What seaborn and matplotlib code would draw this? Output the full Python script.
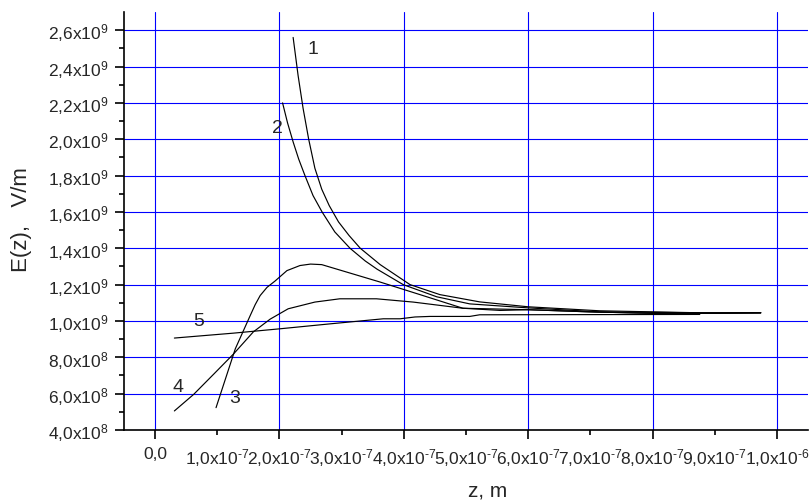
import numpy as np
import pandas as pd
import matplotlib
matplotlib.use("Agg")
import matplotlib.pyplot as plt
import seaborn as sns

# curves E(z)
z1 = [2.22e-7, 2.30e-7, 2.38e-7, 2.47e-7, 2.57e-7, 2.68e-7, 2.80e-7, 2.95e-7, 3.12e-7, 3.30e-7,
      3.62e-7, 4.10e-7, 4.58e-7, 5.22e-7, 6.00e-7, 7.15e-7, 8.76e-7, 9.74e-7]
E1 = [2.56e9, 2.35e9, 2.17e9, 2.00e9, 1.84e9, 1.725e9, 1.635e9, 1.545e9, 1.47e9, 1.40e9,
      1.31e9, 1.20e9, 1.145e9, 1.105e9, 1.078e9, 1.056e9, 1.045e9, 1.045e9]

z2 = [2.05e-7, 2.13e-7, 2.22e-7, 2.31e-7, 2.41e-7, 2.54e-7, 2.685e-7, 2.89e-7, 3.135e-7, 3.38e-7,
      3.57e-7, 3.99e-7, 4.53e-7, 5.06e-7, 6.00e-7, 7.15e-7, 8.76e-7, 9.74e-7]
E2 = [2.20e9, 2.09e9, 1.985e9, 1.89e9, 1.80e9, 1.69e9, 1.60e9, 1.49e9, 1.40e9, 1.33e9,
      1.285e9, 1.20e9, 1.133e9, 1.094e9, 1.072e9, 1.05e9, 1.045e9, 1.045e9]

z3 = [0.98e-7, 1.29e-7, 1.53e-7, 1.61e-7, 1.69e-7, 1.80e-7, 1.93e-7, 2.12e-7, 2.33e-7, 2.50e-7,
      2.68e-7, 3.62e-7, 4.26e-7, 4.95e-7, 6.00e-7, 7.00e-7, 8.00e-7, 9.00e-7, 9.74e-7]
E3 = [5.23e8, 8.47e8, 1.03e9, 1.09e9, 1.14e9, 1.185e9, 1.22e9, 1.277e9, 1.305e9, 1.313e9,
      1.31e9, 1.214e9, 1.145e9, 1.07e9, 1.062e9, 1.05e9, 1.042e9, 1.042e9, 1.045e9]

z4 = [0.31e-7, 0.62e-7, 0.95e-7, 1.26e-7, 1.58e-7, 1.85e-7, 2.14e-7, 2.57e-7, 2.97e-7, 3.56e-7,
      4.15e-7, 4.95e-7, 5.55e-7, 6.00e-7, 7.00e-7, 8.00e-7, 9.00e-7, 9.74e-7]
E4 = [5.05e8, 5.96e8, 7.10e8, 8.18e8, 9.40e8, 1.01e9, 1.067e9, 1.104e9, 1.122e9, 1.122e9,
      1.104e9, 1.07e9, 1.058e9, 1.062e9, 1.05e9, 1.042e9, 1.042e9, 1.045e9]

z5 = [0.31e-7, 1.26e-7, 2.01e-7, 2.81e-7, 3.67e-7, 3.94e-7, 4.18e-7, 4.42e-7, 5.06e-7, 5.22e-7,
      7.00e-7, 8.76e-7]
E5 = [9.06e8, 9.33e8, 9.57e8, 9.84e8, 1.012e9, 1.012e9, 1.022e9, 1.025e9, 1.025e9, 1.034e9,
      1.035e9, 1.036e9]

x_major = [0.0, 2e-7, 4e-7, 6e-7, 8e-7, 1e-6]
x_major_labels = ["0,0", r"2,0x10$^{\text{-7}}$", r"4,0x10$^{\text{-7}}$", r"6,0x10$^{\text{-7}}$",
                  r"8,0x10$^{\text{-7}}$", r"1,0x10$^{\text{-6}}$"]
x_minor = [1e-7, 3e-7, 5e-7, 7e-7, 9e-7]
x_minor_labels = [r"1,0x10$^{\text{-7}}$", r"3,0x10$^{\text{-7}}$", r"5,0x10$^{\text{-7}}$",
                  r"7,0x10$^{\text{-7}}$", r"9,0x10$^{\text{-7}}$"]
y_major = [4e8, 6e8, 8e8, 1.0e9, 1.2e9, 1.4e9, 1.6e9, 1.8e9, 2.0e9, 2.2e9, 2.4e9, 2.6e9]
y_major_labels = [r"4,0x10$^{8}$", r"6,0x10$^{8}$", r"8,0x10$^{8}$", r"1,0x10$^{9}$",
                  r"1,2x10$^{9}$", r"1,4x10$^{9}$", r"1,6x10$^{9}$", r"1,8x10$^{9}$",
                  r"2,0x10$^{9}$", r"2,2x10$^{9}$", r"2,4x10$^{9}$", r"2,6x10$^{9}$"]
y_minor = [5e8, 7e8, 9e8, 1.1e9, 1.3e9, 1.5e9, 1.7e9, 1.9e9, 2.1e9, 2.3e9, 2.5e9]

sns.set_style("white")
plt.rcParams["font.family"] = ["Liberation Sans", "DejaVu Sans"]
plt.rcParams["mathtext.fontset"] = "custom"
plt.rcParams["mathtext.rm"] = "Liberation Sans"
plt.rcParams["mathtext.it"] = "Liberation Sans:italic"
plt.rcParams["mathtext.bf"] = "Liberation Sans:bold"

fig = plt.figure(figsize=(8.1, 5.02), dpi=100)
ax = fig.add_axes([0.1531, 0.1414, 0.8444, 0.8327])

curves = [(z1, E1), (z2, E2), (z3, E3), (z4, E4), (z5, E5)]
for z, E in curves:
    df = pd.DataFrame({"z": z, "E": E})
    sns.lineplot(data=df, x="z", y="E", ax=ax, color="black", lw=0.85,
                 sort=False, estimator=None)

ax.set_xlim(-0.5e-7, 1.05e-6)
ax.set_ylim(4e8, 2.7e9)

ax.set_xticks(x_major)
ax.set_xticklabels(x_major_labels)
ax.set_xticks(x_minor, minor=True)
ax.set_xticklabels(x_minor_labels, minor=True)
ax.set_yticks(y_major)
ax.set_yticklabels(y_major_labels)
ax.set_yticks(y_minor, minor=True)

ax.tick_params(which="major", length=6.3, width=1.2, color="black", labelsize=12.5, pad=5)
ax.tick_params(axis="x", which="minor", length=3.6, width=1.2, color="black", labelsize=12.5, pad=7.7)
ax.tick_params(axis="y", which="minor", length=3.6, width=1.2, color="black")
ax.tick_params(axis="both", direction="out", bottom=True, left=True)
ax.tick_params(axis="x", which="minor", bottom=True)
ax.tick_params(axis="y", which="minor", left=True)

ax.grid(True, which="major", color="#0000ff", lw=0.8)
ax.set_axisbelow(True)
for s in ["top", "right"]:
    ax.spines[s].set_visible(False)
for s in ["left", "bottom"]:
    ax.spines[s].set_color("black")
    ax.spines[s].set_linewidth(1.2)

ax.set_xlabel("z, m", fontsize=15)
ax.set_ylabel("E(z),   V/m", fontsize=16)
ax.xaxis.set_label_coords(0.532, -0.12)
ax.yaxis.set_label_coords(-0.135, 0.505)

for txt, x, y in [("1", 2.545e-7, 2.50e9), ("2", 1.97e-7, 2.065e9), ("3", 1.286e-7, 5.78e8),
                  ("4", 0.375e-7, 6.4e8), ("5", 0.697e-7, 1.003e9)]:
    ax.text(x, y, txt, fontsize=14, ha="center", va="center")

fig.savefig("out.png", dpi=100)
